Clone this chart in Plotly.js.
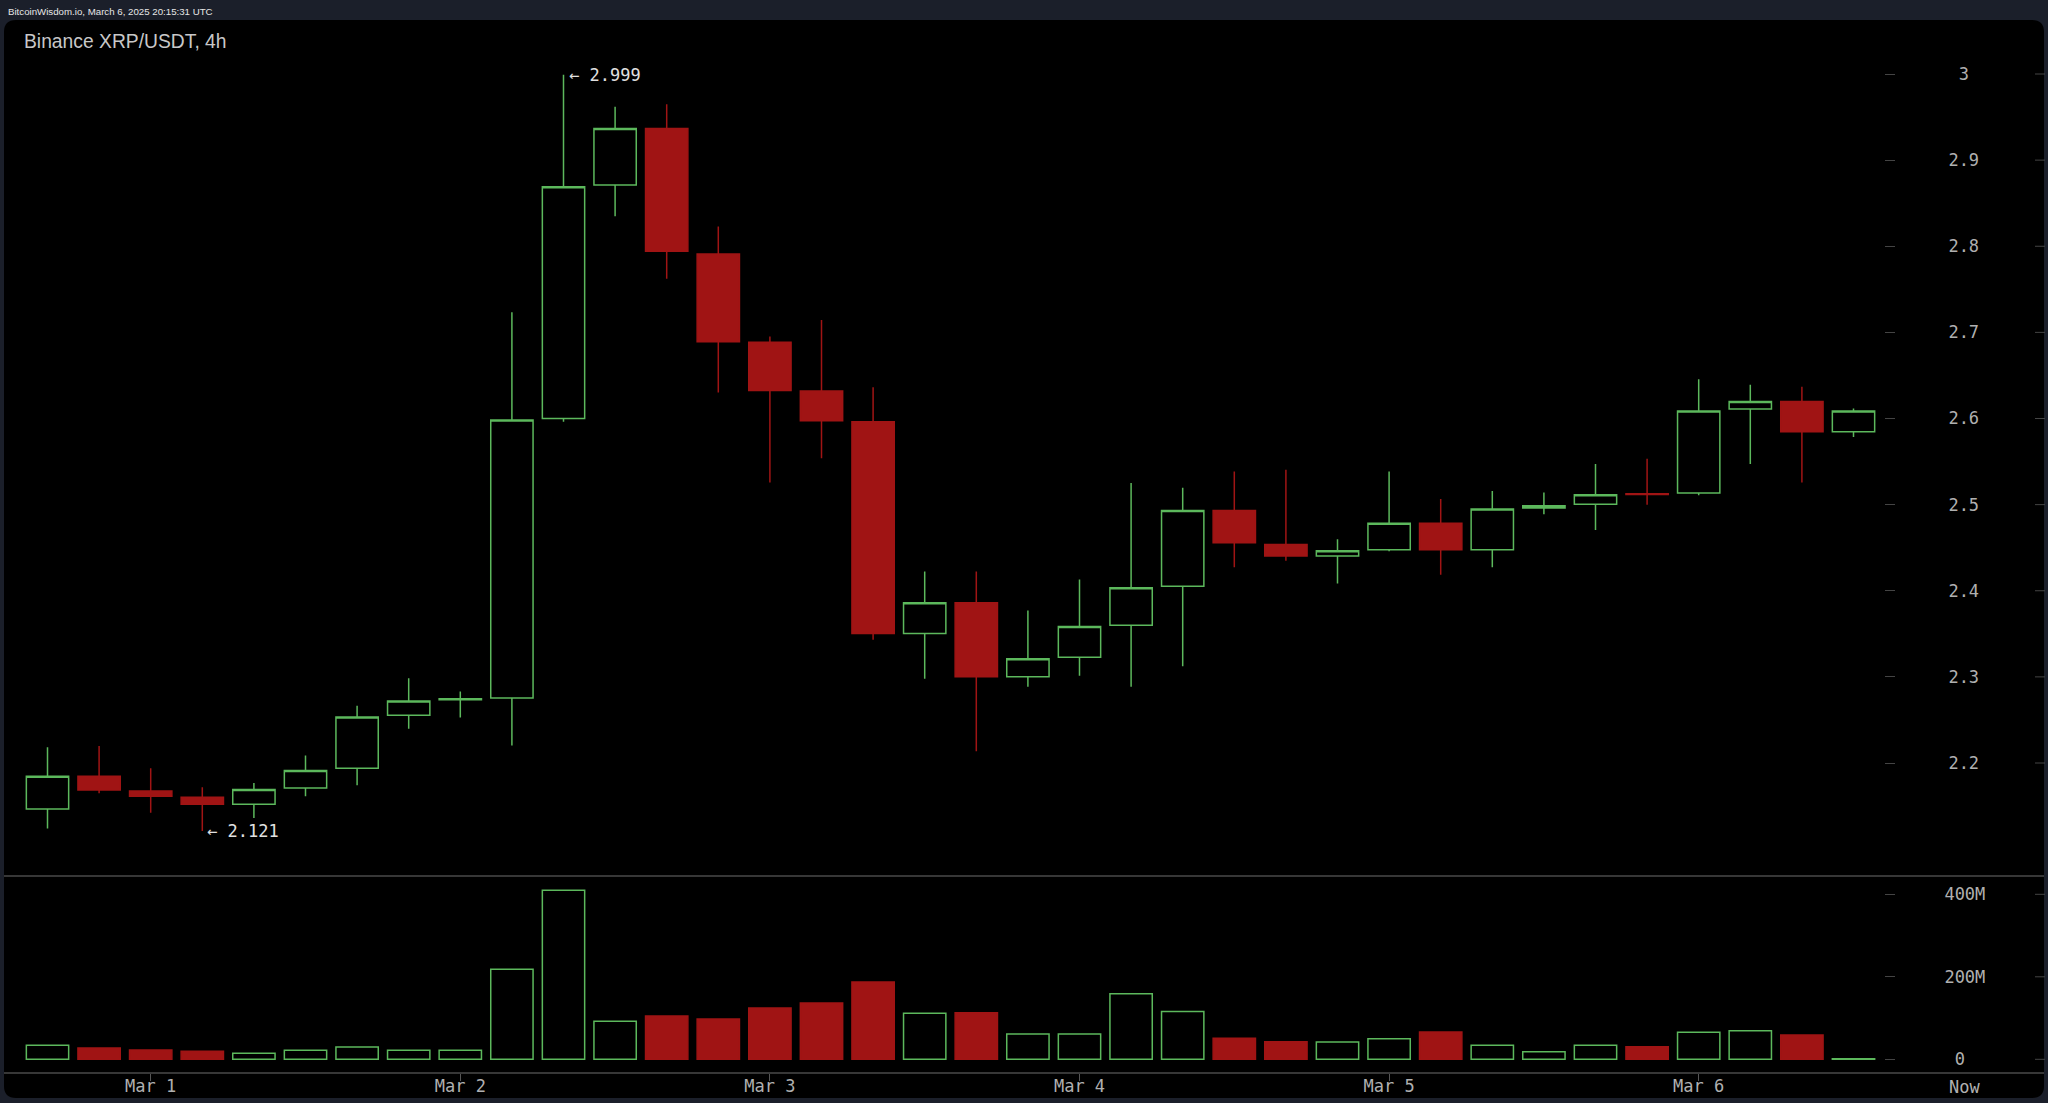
<!DOCTYPE html>
<html><head><meta charset="utf-8">
<script src="https://cdn.plot.ly/plotly-3.0.1.min.js"></script>
<style>html,body{margin:0;padding:0;background:#1b1f2a;overflow:hidden}#chart{width:2048px;height:1103px}</style>
</head><body><div id="chart"></div>
<script>
// ---- data ----
const times = [
 '2025-02-28 16:00','2025-02-28 20:00',
 '2025-03-01 00:00','2025-03-01 04:00','2025-03-01 08:00','2025-03-01 12:00','2025-03-01 16:00','2025-03-01 20:00',
 '2025-03-02 00:00','2025-03-02 04:00','2025-03-02 08:00','2025-03-02 12:00','2025-03-02 16:00','2025-03-02 20:00',
 '2025-03-03 00:00','2025-03-03 04:00','2025-03-03 08:00','2025-03-03 12:00','2025-03-03 16:00','2025-03-03 20:00',
 '2025-03-04 00:00','2025-03-04 04:00','2025-03-04 08:00','2025-03-04 12:00','2025-03-04 16:00','2025-03-04 20:00',
 '2025-03-05 00:00','2025-03-05 04:00','2025-03-05 08:00','2025-03-05 12:00','2025-03-05 16:00','2025-03-05 20:00',
 '2025-03-06 00:00','2025-03-06 04:00','2025-03-06 08:00','2025-03-06 12:00'
];
const openP  = [2.1465,2.1846,2.1674,2.1601,2.1521,2.1711,2.1938,2.2553,2.2735,2.2756,2.6000,2.8710,2.9367,2.7911,2.6885,2.6320,2.5963,2.3505,2.3862,2.3002,2.3229,2.3598,2.4052,2.4931,2.4538,2.4403,2.4476,2.4783,2.4476,2.4962,2.5005,2.5125,2.5134,2.6111,2.6197,2.5846];
const highP  = [2.2184,2.2197,2.1938,2.1717,2.1767,2.2086,2.2664,2.2983,2.2830,2.7235,2.9990,2.9619,2.9650,2.8230,2.6952,2.7143,2.6363,2.4224,2.4224,2.3770,2.4132,2.5250,2.5195,2.5385,2.5404,2.4599,2.5385,2.5066,2.5158,2.5140,2.5472,2.5533,2.6455,2.6393,2.6369,2.6117];
const lowP   = [2.1240,2.1650,2.1422,2.1210,2.1361,2.1613,2.1742,2.2399,2.2528,2.2203,2.5963,2.8347,2.7622,2.6301,2.5257,2.5539,2.3432,2.2977,2.2135,2.2885,2.3014,2.2885,2.3124,2.4273,2.4347,2.4083,2.4458,2.4187,2.4273,2.4888,2.4704,2.4998,2.5109,2.5472,2.5257,2.5785];
const closeP = [2.1846,2.1687,2.1613,2.1521,2.1693,2.1914,2.2535,2.2719,2.2745,2.5982,2.8691,2.9367,2.7942,2.6891,2.6326,2.5975,2.3505,2.3862,2.3002,2.3210,2.3585,2.4034,2.4931,2.4556,2.4403,2.4464,2.4783,2.4476,2.4949,2.4986,2.5115,2.5118,2.6086,2.6197,2.5846,2.6086];
const volumeM = [33.9,27.5,22.6,19.4,14.5,21.8,29.9,21.8,21.8,218.2,409.7,92.1,105.0,97.8,124.4,136.6,187.5,111.5,113.1,61.4,61.4,159.2,115.6,50.9,42.8,42.0,50.1,66.3,33.9,18.6,33.9,30.7,65.5,69.5,59.0,1.5];

const priceTicks = [2.2,2.3,2.4,2.5,2.6,2.7,2.8,2.9,3.0];
const priceTickText = ['2.2','2.3','2.4','2.5','2.6','2.7','2.8','2.9','\u00A03\u00A0'];
const volTicks = [0,200,400];
const volTickText = ['\u00A00','200M','400M'];
const dayTicks = ['2025-03-01','2025-03-02','2025-03-03','2025-03-04','2025-03-05','2025-03-06'];
const dayLabels = ['Mar 1','Mar 2','Mar 3','Mar 4','Mar 5','Mar 6'];
const titleText = 'Binance XRP/USDT, 4h';
const headerText = 'BitcoinWisdom.io, March 6, 2025 20:15:31 UTC';
const highLabel = '\u2190 2.999';
const lowLabel = '\u2190 2.121';

// ---- styling / geometry ----
const W = 2048, H = 1103;
const px = v => v / W;
const py = v => 1 - v / H;
const GREEN = '#5cb85c', RED = '#a01414';
const FRAME = '#1b1f2a';
const MONO = 'DejaVu Sans Mono, Liberation Mono, monospace';
const H4 = 4 * 3600 * 1000;
const t0 = Date.parse(times[0].replace(' ', 'T') + ':00Z');
const iso = ms => new Date(ms).toISOString().replace('T', ' ').replace('Z', '');
const candleX0 = 47.5, candleStep = 51.6;
const xRange = [iso(t0 + (4 - candleX0) / candleStep * H4), iso(t0 + (2044 - candleX0) / candleStep * H4)];

const pricePxPerUnit = 861.25; // px per 1.0 price
const yRange = [2.2 - (876 - 763) / pricePxPerUnit, 3 + (74 - 20) / pricePxPerUnit];
const volPxPer200 = 82.5;
const y2Range = [-(1073 - 1059.3) / volPxPer200 * 200, (1059.3 - 876) / volPxPer200 * 200];

function roundRect(x0, y0, x1, y1, r) {
  const rx = r;
  return 'M' + px(x0 + rx) + ',' + py(y0) +
    ' L' + px(x1 - rx) + ',' + py(y0) +
    ' Q' + px(x1) + ',' + py(y0) + ' ' + px(x1) + ',' + py(y0 + r) +
    ' L' + px(x1) + ',' + py(y1 - r) +
    ' Q' + px(x1) + ',' + py(y1) + ' ' + px(x1 - rx) + ',' + py(y1) +
    ' L' + px(x0 + rx) + ',' + py(y1) +
    ' Q' + px(x0) + ',' + py(y1) + ' ' + px(x0) + ',' + py(y1 - r) +
    ' L' + px(x0) + ',' + py(y0 + r) +
    ' Q' + px(x0) + ',' + py(y0) + ' ' + px(x0 + rx) + ',' + py(y0) + ' Z';
}

const up = closeP.map((c, i) => c >= openP[i]);
const volFill = up.map(u => u ? 'rgba(0,0,0,0)' : RED);
const volLine = up.map(u => u ? GREEN : RED);

const candles = {
  type: 'candlestick', x: times, open: openP, high: highP, low: lowP, close: closeP,
  xaxis: 'x', yaxis: 'y',
  increasing: { line: { color: GREEN, width: 1.5 }, fillcolor: 'rgba(0,0,0,0)' },
  decreasing: { line: { color: RED, width: 1.5 }, fillcolor: RED },
  whiskerwidth: 0, hoverinfo: 'skip', showlegend: false
};
const volumes = {
  type: 'bar', x: times, y: volumeM, xaxis: 'x', yaxis: 'y2',
  width: 0.82 * H4,
  marker: { color: volFill, line: { color: volLine, width: 1.5 } },
  hoverinfo: 'skip', showlegend: false
};

const tickFont = { family: MONO, size: 17, color: '#b0b0b0' };

const shapes = [
  { type: 'path', xref: 'paper', yref: 'paper', path: roundRect(4, 20, 2044, 1098, 12), fillcolor: '#000000', line: { width: 0 }, layer: 'below' },
  { type: 'line', xref: 'paper', yref: 'paper', x0: px(4), x1: px(2044), y0: py(876), y1: py(876), line: { color: '#4a4a4a', width: 1.5 } },
  { type: 'line', xref: 'paper', yref: 'paper', x0: px(4), x1: px(2044), y0: py(1073), y1: py(1073), line: { color: '#4a4a4a', width: 1.5 } }
];
priceTicks.forEach(v => shapes.push({ type: 'line', xref: 'paper', yref: 'y', x0: px(2035), x1: px(2045), y0: v, y1: v, line: { color: '#444', width: 1 } }));
volTicks.forEach(v => shapes.push({ type: 'line', xref: 'paper', yref: 'y2', x0: px(2035), x1: px(2045), y0: v, y1: v, line: { color: '#444', width: 1 } }));

const layout = {
  width: W, height: H,
  margin: { l: 0, r: 0, t: 0, b: 0, pad: 0 },
  paper_bgcolor: FRAME, plot_bgcolor: 'rgba(0,0,0,0)',
  showlegend: false, hovermode: false, boxgap: 0.18, boxgroupgap: 0, bargap: 0,
  title: { text: titleText, x: px(24), xanchor: 'left', xref: 'paper', y: py(41), yanchor: 'middle', yref: 'paper',
           font: { family: 'Liberation Sans, Arial, sans-serif', size: 19.3, color: '#c8c8c8' } },
  xaxis: {
    type: 'date', domain: [px(4), px(2044)], range: xRange, anchor: 'y2',
    rangeslider: { visible: false },
    tickvals: dayTicks, ticktext: dayLabels,
    ticks: 'outside', ticklen: 7, tickwidth: 1, tickcolor: '#555',
    showgrid: false, zeroline: false, showline: false, tickfont: tickFont, ticklabelstandoff: -9
  },
  yaxis: {
    domain: [py(876), py(20)], range: yRange, anchor: 'free', position: px(1884), side: 'right',
    tickvals: priceTicks, ticktext: priceTickText,
    ticks: 'outside', ticklen: 10, tickwidth: 1, tickcolor: '#444',
    showgrid: false, zeroline: false, showline: false, tickfont: tickFont, ticklabelstandoff: 50
  },
  yaxis2: {
    domain: [py(1073), py(876)], range: y2Range, anchor: 'free', position: px(1884), side: 'right',
    tickvals: volTicks, ticktext: volTickText,
    ticks: 'outside', ticklen: 10, tickwidth: 1, tickcolor: '#444',
    showgrid: false, zeroline: false, showline: false, tickfont: tickFont, ticklabelstandoff: 46
  },
  shapes: shapes,
  annotations: [
    { xref: 'paper', yref: 'paper', x: px(6), y: py(11), xanchor: 'left', yanchor: 'middle', showarrow: false,
      text: headerText, font: { family: 'Liberation Sans Narrow, Liberation Sans, Arial', size: 9.7, color: '#e6e6e6' } },
    { xref: 'x', yref: 'y', x: times[10], y: highP[10], xanchor: 'left', yanchor: 'middle', xshift: 3, showarrow: false,
      text: highLabel, font: { family: MONO, size: 17, color: '#e0e0e0' } },
    { xref: 'x', yref: 'y', x: times[3], y: lowP[3], xanchor: 'left', yanchor: 'middle', xshift: 3, showarrow: false,
      text: lowLabel, font: { family: MONO, size: 17, color: '#e0e0e0' } },
    { xref: 'paper', yref: 'paper', x: px(1964), y: py(1087), xanchor: 'center', yanchor: 'middle', showarrow: false,
      text: 'Now', font: tickFont }
  ]
};

Plotly.newPlot('chart', [volumes, candles], layout, { staticPlot: true, displayModeBar: false });
</script>
</body></html>
